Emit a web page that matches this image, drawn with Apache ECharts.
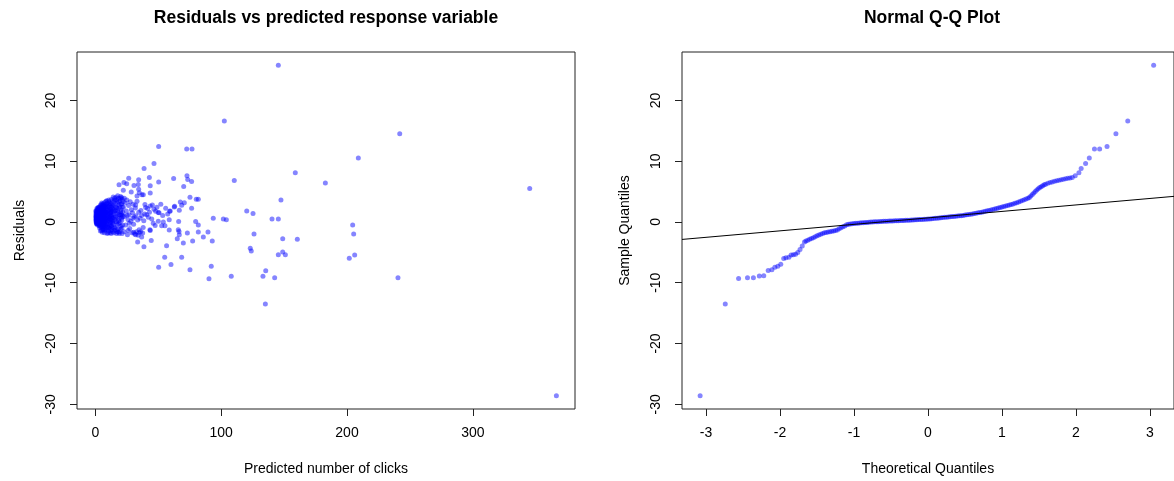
<!DOCTYPE html>
<html>
<head>
<meta charset="utf-8">
<script src="https://cdn.jsdelivr.net/npm/echarts@6/dist/echarts.min.js"></script>
<style>
html,body{margin:0;padding:0;background:#fff;}
#main{width:1174px;height:481px;}
</style>
</head>
<body>
<div id="main"></div>
<script>
// ---------- Data ----------
const titleLeft = 'Residuals vs predicted response variable';
const titleRight = 'Normal Q-Q Plot';
const xNameLeft = 'Predicted number of clicks';
const yNameLeft = 'Residuals';
const xNameRight = 'Theoretical Quantiles';
const yNameRight = 'Sample Quantiles';

const xTicksLeft = [0, 100, 200, 300];
const yTicks = [-30, -20, -10, 0, 10, 20];
const xTicksRight = [-3, -2, -1, 0, 1, 2, 3];

// [predicted clicks, residual]
const coreCluster = [
[0.4,0.2],[0.5,0.6],[0.6,1.1],[0.7,-0.1],[0.8,0.9],[0.9,1.6],[1.0,0.3],[1.1,1.9],[1.2,0.5],[1.3,-0.3],
[1.4,1.3],[1.5,0.8],[1.6,0.1],[1.7,2.0],[1.8,0.6],[1.9,1.4],[2.0,-0.2],[2.1,1.0],[2.2,0.4],[2.3,1.7],
[2.4,0.0],[2.5,0.7],[2.6,1.2],[2.7,2.2],[2.8,-0.4],[2.9,0.9],[3.0,0.3],[0.5,1.4],[0.7,0.8],[0.9,0.0],
[1.1,0.7],[1.3,1.0],[1.5,1.8],[1.7,-0.1],[1.9,0.2],[2.1,1.5],[2.3,0.6],[2.5,-0.3],[2.7,0.5],[2.9,1.6],
[0.6,0.4],[0.8,1.7],[1.0,1.2],[1.2,-0.2],[1.4,0.5],[1.6,1.5],[1.8,1.1],[2.0,0.8],[2.2,2.1],[2.4,1.3],
[2.6,0.2],[2.8,1.9],[3.0,1.1],[0.4,0.9],[1.0,0.6],[1.6,0.7],[2.2,-0.1],[2.8,0.7],[1.3,0.2],[1.9,0.9],
[2.5,1.5],[0.7,1.3],[1.5,0.3],[2.3,0.9],[3.1,0.5],[1.1,0.1],[1.8,2.3],[2.6,1.7],[0.9,0.5],[2.0,1.3],
[0.3,1.8],[1.2,2.2],[2.4,2.4],[0.8,-0.3],[1.7,-0.5],[2.9,-0.6]
];
const innerCluster = [
[3.2,-0.6],[3.4,1.8],[3.5,0.4],[3.7,2.5],[3.8,-0.2],[4.0,1.2],[4.1,0.6],[4.3,2.1],[4.4,-0.9],[4.6,0.9],
[4.7,1.6],[4.9,0.1],[5.0,2.7],[5.2,0.5],[5.3,1.4],[5.5,-0.5],[5.6,1.0],[5.8,2.3],[5.9,0.2],[6.1,1.7],
[6.2,-0.3],[6.4,0.8],[6.5,2.0],[6.7,-0.8],[6.8,1.3],[7.0,0.4],[7.1,2.6],[7.3,-0.1],[7.4,1.1],[7.6,1.9],
[7.7,0.6],[7.9,-0.6],[8.0,1.5],[3.3,0.9],[3.6,1.3],[3.9,0.0],[4.2,1.7],[4.5,0.3],[4.8,2.3],[5.1,-0.2],
[5.4,0.8],[5.7,1.8],[6.0,0.6],[6.3,1.2],[6.6,0.0],[6.9,2.2],[7.2,0.9],[7.5,-0.4],[7.8,1.2],[3.5,-0.3],
[4.0,2.0],[4.6,-0.4],[5.2,1.9],[5.8,-0.9],[6.4,1.6],[7.0,-0.5],[7.6,0.3],[3.9,1.5],[4.9,1.1],[5.9,1.4],
[6.9,0.2],[7.9,2.4],[4.4,0.5],[5.5,2.4],[6.6,1.0],[7.3,1.6],[3.1,2.4],[4.2,-0.7],[5.3,-0.6],[6.2,2.8],
[4.8,-1.4],[5.6,-1.7],[6.3,-1.2],[7.2,-1.8],[7.8,-1.3],
[3.3,0.2],[3.8,1.0],[4.3,0.1],[4.7,1.2],[5.2,2.9],[5.7,0.4],[6.1,-0.1],[6.5,1.4],[7.0,1.8],[7.4,-1.0],
[7.8,0.1],[3.6,2.1],[4.1,2.8],[4.9,-0.8],[5.4,0.0],[6.0,2.5],[6.7,2.6],[7.1,-1.4],[7.6,2.8],[5.0,3.1],
[3.4,-1.0],[4.5,1.9],[5.9,-1.3],[6.8,-0.2],[7.7,1.6],[4.0,-1.5],[6.3,3.0],[7.3,3.2],[5.6,2.0],[6.9,0.9]
];
const outerCluster = [
[8.2,0.1],[8.4,2.9],[8.5,-1.2],[8.7,1.0],[8.9,2.2],[9.0,-0.3],[9.2,1.6],[9.4,0.5],[9.5,3.1],[9.7,-0.8],
[9.9,1.3],[10.0,2.5],[10.2,0.2],[10.4,-1.5],[10.5,1.9],[10.7,0.7],[10.9,3.3],[11.0,-0.4],[11.2,1.4],[11.4,2.7],
[11.5,0.0],[11.7,-1.1],[11.9,2.1],[12.0,0.9],[12.2,3.0],[12.4,-0.6],[12.5,1.7],[12.7,0.3],[12.9,2.4],[13.0,-1.3],
[13.2,1.1],[13.4,3.4],[13.5,0.6],[13.7,-0.2],[13.9,1.8],[8.3,1.6],[8.8,0.4],[9.3,2.6],[9.8,0.9],[10.3,1.2],
[10.8,-0.9],[11.3,0.8],[11.8,1.5],[12.3,2.0],[12.8,-0.7],[13.3,0.2],[13.8,2.8],[8.6,-0.5],[9.6,0.1],[10.6,2.9],
[11.6,0.4],[12.6,1.2],[13.6,-1.6],[9.1,3.5],[10.1,-1.0],[11.1,2.3],[12.1,-0.1],[13.1,2.6],[8.1,1.9],[14.0,0.7],
[9.4,-1.9],[11.5,-1.8],[12.6,-1.9],
[8.6,2.5],[9.0,1.0],[9.9,-0.3],[10.4,0.6],[10.9,1.7],[11.4,-0.7],[11.9,0.5],[12.4,1.5],[12.9,0.9],[13.4,-0.9],
[13.9,0.0],[8.9,-1.0],[9.7,2.0],[10.7,3.6],[11.7,3.0],[12.7,3.7],[13.6,2.2],[10.0,-1.8],[12.2,-1.4],[8.4,3.4],
[14.2,4.1],[14.5,1.3],[14.7,-1.8],[15.0,2.6],[15.2,0.4],[15.5,3.6],[15.8,-0.9],[16.0,1.9],[16.3,4.0],[16.5,0.1],
[16.8,-1.9],[17.0,2.3],[17.3,3.2],[17.5,0.8],[17.8,-1.2],[18.0,1.5],[18.3,3.9],[18.5,-0.3],[18.8,2.8],[19.0,0.6],
[19.3,-1.6],[19.5,3.5],[19.8,1.1],[20.0,4.2],[20.3,-0.7],[20.5,2.0],[20.8,3.0],[21.0,0.3],[21.3,-1.9],[21.5,3.7],
[21.8,1.6],[14.4,-0.4],[15.1,1.7],[15.9,3.0],[16.6,2.4],[17.4,-0.5],[18.1,2.2],[18.9,1.2],[19.6,-0.1],[20.4,2.9],
[21.1,-1.0],[21.9,0.9],[14.8,3.3],[16.2,-1.3],[17.7,4.3],[19.1,-1.9],[20.6,1.3],[15.6,0.7],[17.1,0.0],[18.6,3.3],
[20.9,4.0],
[14.6,2.0],[15.4,-1.4],[16.1,0.9],[16.9,3.6],[17.6,1.8],[18.4,0.2],[19.2,2.5],[19.9,-1.2],[20.7,0.6],[21.4,2.4],
[15.3,3.9],[16.7,1.4],[18.2,-1.7],[19.7,3.9],[21.2,1.1],[22.0,3.3],[14.9,-1.0],[17.2,-1.6],[20.2,1.7],[21.6,-0.5]
];
const midPoints = [
[22.3,2.4],[22.8,-1.6],[23.2,0.9],[23.7,3.1],[24.1,-0.5],[24.6,1.8],[25.0,3.6],[25.5,-2.1],[25.9,0.4],[26.4,2.7],
[26.8,1.2],[27.3,-1.1],[27.7,3.3],[28.2,0.1],[28.6,2.0],[29.1,-1.8],[29.5,1.5],[30.0,2.9],[30.4,-0.4],[30.9,0.8],
[31.3,-2.0],[31.8,2.3],[32.2,1.0],[32.7,-1.6],[33.1,3.4],[33.6,0.3],[34.0,-2.2],[34.5,1.6],[23.0,3.9],[25.2,1.1],
[27.0,-0.2],[29.8,0.6],[32.0,2.8],[34.8,-1.3],[26.0,-1.4],
[26.5,7.2],[34.4,6.93],[18.8,6.11],[22.7,6.5],[24.9,6.28],[30.7,6.0],[34.1,6.17],[22.2,5.2],[28.5,4.92],[34.4,5.36],
[34.9,4.8],[37.0,4.48],[33.1,4.26],[38.1,4.48],[39.4,2.85],[40.0,2.36],[43.6,2.63],[50.6,1.49],[59.0,1.76],[62.7,2.47],
[66.2,0.07],[33.6,-3.3],[43.6,-1.4],[30.5,-1.7],[32.0,-2.1],[34.8,-1.8],[36.0,-1.6],
[36.8,1.05],[40.8,1.2],[42.1,0.78],[46.0,-0.2],[44.8,0.5],[37.6,-1.83],[36.8,-2.5],[43.4,-1.29],[35.5,0.6],
[36.2,1.9],[38.5,0.2],[39.2,1.3],[41.5,2.2],[43.0,1.6],[45.3,2.8],[48.9,2.4],[47.5,-0.6],[52.0,2.9],[54.0,0.0],
[38.0,-0.9]
];
const spreadPoints = [
[145.4,25.8],[102.5,16.6],[241.9,14.5],[209.0,10.5],[50.3,12.4],[72.6,12.0],[76.8,12.0],[158.9,8.1],[182.8,6.4],[110.4,6.8],
[38.7,8.8],[46.6,9.6],[42.9,7.3],[62.2,7.15],[72.8,7.6],[73.4,7.0],[76.5,6.67],[70.2,5.85],[43.6,5.95],[50.3,6.55],
[43.6,4.75],[75.2,4.05],[80.2,3.72],[81.8,3.72],[76.5,2.25],[147.5,3.6],[67.5,3.28],[70.7,3.17],[68.6,2.74],[63.0,2.58],
[66.7,1.93],[59.5,1.81],[55.9,2.25],[57.5,1.32],[53.5,1.05],[50.0,1.54],[46.6,2.09],[47.9,1.76],[120.3,1.81],[125.3,1.37],
[93.7,0.62],[101.7,0.5],[104.1,0.34],[140.4,0.5],[145.4,0.5],[79.7,0.07],[81.8,-0.52],[58.7,0.34],[50.0,0.13],[52.7,-0.64],
[55.3,-0.64],[204.5,-0.52],[205.3,-2.0],[126.1,-2.0],[58.7,-1.34],[65.9,-1.29],[66.5,-1.56],[73.1,-1.83],[81.8,-1.67],[89.5,-1.67],
[85.8,-2.5],[92.9,-3.14],[77.3,-3.14],[69.9,-3.46],[65.1,-2.76],[66.7,-2.1],[56.6,-3.9],[44.4,-3.04],[38.6,-4.07],[148.9,-2.76],
[160.5,-2.87],[123.1,-4.35],[123.9,-4.78],[145.4,-5.38],[148.9,-4.94],[151.0,-5.38],[201.8,-5.98],[206.1,-5.43],[55.1,-5.8],[68.6,-5.8],
[60.1,-7.0],[50.3,-7.45],[75.2,-7.88],[92.1,-7.29],[90.3,-9.35],[108.0,-8.92],[133.2,-8.92],[135.4,-8.04],[142.5,-9.18],[240.5,-9.18],
[135.1,-13.5],[345.2,5.52],[366.4,-28.6]
];

// Q-Q plot: [theoretical quantile, sample quantile]
const qqLowerTail = [
[-3.08,-28.6],[-2.74,-13.5],[-2.56,-9.3],[-2.44,-9.2],[-2.36,-9.2],[-2.28,-8.9],[-2.22,-8.85],[-2.16,-8.0],[-2.11,-7.85],[-2.07,-7.45],
[-2.03,-7.3],[-1.99,-6.95],[-1.95,-6.0],[-1.92,-5.9],[-1.88,-5.8],[-1.85,-5.45],[-1.82,-5.38],[-1.79,-5.3],[-1.76,-5.05],[-1.73,-4.55],
[-1.70,-3.96],[-1.67,-3.3]
];
const qqBody = [
[-1.65,-3.15],[-1.625,-3.0],[-1.6,-2.87],[-1.575,-2.73],[-1.55,-2.6],[-1.525,-2.45],[-1.5,-2.27],[-1.475,-2.13],[-1.45,-2.02],[-1.425,-1.92],
[-1.4,-1.8],[-1.375,-1.72],[-1.35,-1.65],[-1.325,-1.6],[-1.3,-1.55],[-1.275,-1.48],[-1.25,-1.4],[-1.225,-1.32],[-1.2,-1.12],[-1.175,-0.95],
[-1.15,-0.8],[-1.125,-0.66],[-1.1,-0.48],[-1.075,-0.4],[-1.05,-0.35],[-1.025,-0.3],[-1.0,-0.26],[-0.975,-0.23],[-0.95,-0.2],[-0.925,-0.17],
[-0.9,-0.14],[-0.875,-0.12],[-0.85,-0.1],[-0.825,-0.08],[-0.8,-0.05],[-0.775,-0.03],[-0.75,-0.01],[-0.725,0.01],[-0.7,0.03],[-0.675,0.05],
[-0.65,0.07],[-0.625,0.08],[-0.6,0.1],[-0.575,0.11],[-0.55,0.12],[-0.525,0.14],[-0.5,0.15],[-0.475,0.17],[-0.45,0.18],[-0.425,0.19],
[-0.4,0.21],[-0.375,0.22],[-0.35,0.24],[-0.325,0.25],[-0.3,0.26],[-0.275,0.28],[-0.25,0.29],[-0.225,0.31],[-0.2,0.32],[-0.175,0.34],
[-0.15,0.36],[-0.125,0.38],[-0.1,0.4],[-0.075,0.42],[-0.05,0.44],[-0.025,0.46],[0.0,0.48],[0.025,0.5],[0.05,0.53],[0.075,0.56],
[0.1,0.59],[0.125,0.62],[0.15,0.66],[0.175,0.69],[0.2,0.72],[0.225,0.75],[0.25,0.79],[0.275,0.82],[0.3,0.85],[0.325,0.88],
[0.35,0.91],[0.375,0.94],[0.4,0.97],[0.425,1.0],[0.45,1.03],[0.475,1.07],[0.5,1.12],[0.525,1.17],[0.55,1.22],[0.575,1.27],
[0.6,1.32],[0.625,1.38],[0.65,1.43],[0.675,1.49],[0.7,1.55],[0.725,1.61],[0.75,1.68],[0.775,1.76],[0.8,1.83],[0.825,1.9],
[0.85,1.98],[0.875,2.06],[0.9,2.14],[0.925,2.21],[0.95,2.29],[0.975,2.37],[1.0,2.45],[1.025,2.54],[1.05,2.62],[1.075,2.71],
[1.1,2.8],[1.125,2.88],[1.15,2.97],[1.175,3.07],[1.2,3.17],[1.225,3.28],[1.25,3.4],[1.275,3.52],[1.3,3.65],[1.325,3.78],
[1.35,3.9],[1.37,4.0],[1.39,4.25],[1.41,4.5],[1.43,4.75],[1.45,5.0],[1.47,5.25],[1.49,5.45],[1.51,5.65],[1.53,5.8],
[1.55,5.95],[1.57,6.1],[1.59,6.2],[1.62,6.35],[1.65,6.48],[1.68,6.58],[1.71,6.68],[1.74,6.77],[1.77,6.86],[1.8,6.95],
[1.83,7.03],[1.86,7.1],[1.89,7.17],[1.92,7.22],[1.95,7.3]
];
const qqUpperTail = [
[1.99,7.6],[2.04,8.1],[2.07,8.8],[2.13,9.6],[2.18,10.5],[2.25,12.0],[2.32,12.0],[2.42,12.4],[2.54,14.5],[2.70,16.6],[3.05,25.8]
];
const qqLineIntercept = 0.665;
const qqLineSlope = 1.066;

// ---------- Chart ----------
const FONT = '"Liberation Sans", Arial, sans-serif';
const pointColor = 'rgba(0,0,255,0.6)';
const axisColor = '#222';

const leftX = { min: -14.6, max: 381.2 };
const rightX = { min: -3.325, max: 3.325 };
const yRange = { min: -30.78, max: 27.96 };

function xAxisCfg(grid, range, ticks, name) {
  return {
    gridIndex: grid, type: 'value', min: range.min, max: range.max,
    splitLine: { show: false }, axisLine: { show: false, onZero: false },
    axisTick: { show: true, length: 7, customValues: ticks, lineStyle: { color: axisColor, width: 1 } },
    axisLabel: { customValues: ticks, margin: 17, fontSize: 14, fontFamily: FONT, color: '#000' },
    name: name, nameLocation: 'middle', nameGap: 53,
    nameTextStyle: { fontSize: 14, fontFamily: FONT, color: '#000' }
  };
}
function yAxisCfg(grid, name) {
  return {
    gridIndex: grid, type: 'value', min: yRange.min, max: yRange.max,
    splitLine: { show: false }, axisLine: { show: false, onZero: false },
    axisTick: { show: true, length: 7, customValues: yTicks, lineStyle: { color: axisColor, width: 1 } },
    axisLabel: { customValues: yTicks, rotate: 90, margin: 19, fontSize: 14, fontFamily: FONT, color: '#000' },
    name: name, nameLocation: 'middle', nameGap: 50,
    nameTextStyle: { fontSize: 14, fontFamily: FONT, color: '#000' }
  };
}

const residualData = [].concat(coreCluster, innerCluster, outerCluster, midPoints, spreadPoints);
const qqData = [].concat(qqLowerTail, qqBody, qqUpperTail);
const qqLineData = [
  [rightX.min, qqLineIntercept + qqLineSlope * rightX.min],
  [rightX.max, qqLineIntercept + qqLineSlope * rightX.max]
];

const chart = echarts.init(document.getElementById('main'), null, { renderer: 'canvas' });
chart.setOption({
  animation: false,
  backgroundColor: '#fff',
  graphic: [
    { type: 'text', x: 326, y: 18, z: 10,
      style: { text: titleLeft, font: 'bold 17.5px ' + FONT, fill: '#000', align: 'center', verticalAlign: 'middle', textAlign: 'center', textVerticalAlign: 'middle' } },
    { type: 'text', x: 932, y: 18, z: 10,
      style: { text: titleRight, font: 'bold 17.5px ' + FONT, fill: '#000', align: 'center', verticalAlign: 'middle', textAlign: 'center', textVerticalAlign: 'middle' } }
  ],
  grid: [
    { left: 77, top: 52, width: 498, height: 360, show: true, borderColor: axisColor, borderWidth: 1, backgroundColor: 'transparent' },
    { left: 682, top: 52, width: 500, height: 360, show: true, borderColor: axisColor, borderWidth: 1, backgroundColor: 'transparent' }
  ],
  xAxis: [
    xAxisCfg(0, leftX, xTicksLeft, xNameLeft),
    xAxisCfg(1, rightX, xTicksRight, xNameRight)
  ],
  yAxis: [
    yAxisCfg(0, yNameLeft),
    yAxisCfg(1, yNameRight)
  ],
  series: [
    { type: 'scatter', xAxisIndex: 0, yAxisIndex: 0, data: residualData, symbol: 'circle', symbolSize: 5,
      itemStyle: { color: pointColor }, emphasis: { disabled: true }, silent: true },
    { type: 'scatter', xAxisIndex: 1, yAxisIndex: 1, data: qqData, symbol: 'circle', symbolSize: 5,
      itemStyle: { color: pointColor }, emphasis: { disabled: true }, silent: true },
    { type: 'line', xAxisIndex: 1, yAxisIndex: 1, data: qqLineData, symbol: 'none', z: 5,
      lineStyle: { color: '#000', width: 1 }, silent: true }
  ]
});
</script>
</body>
</html>
